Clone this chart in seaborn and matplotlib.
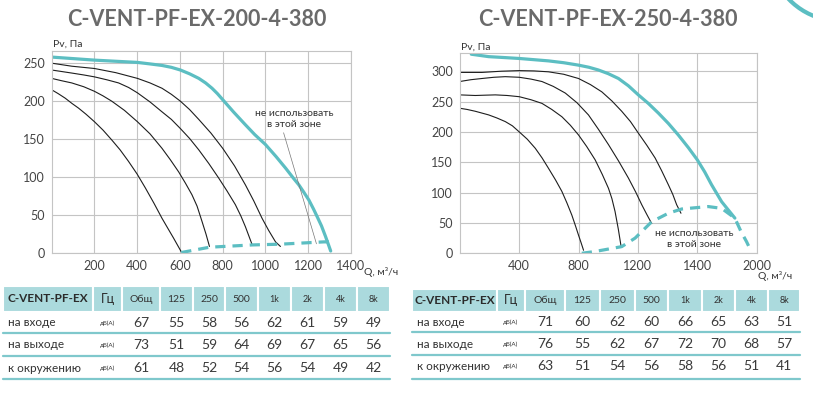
#!/usr/bin/env python3
"""
Fan curves for C-VENT-PF-EX 200 / 250 with noise tables.
"""
import matplotlib
matplotlib.use("Agg")
import matplotlib.pyplot as plt
from matplotlib.patches import Rectangle, Arc
import seaborn as sns

# ---- chart data ----
# left chart: C-VENT-PF-EX-200-4-380
l_max_q = [0, 100, 200, 300, 401, 460, 516, 560, 602, 645, 688, 720, 750, 775, 800, 850,
           906, 950, 1000, 1050, 1094, 1130, 1156, 1180, 1203, 1225, 1242, 1262, 1281, 1295, 1305]
l_max_p = [258, 256, 254, 252.5, 251, 249, 247, 244.5, 241, 236, 230, 224, 217, 210, 202, 186,
           169, 156, 143, 127, 112, 99, 90, 80, 70, 58, 48, 36, 22, 11, 3]
l_c1_q = [0, 30, 63, 95, 125, 160, 200, 240, 281, 320, 359, 400, 438, 478, 516, 545, 570, 590, 606]
l_c1_p = [215, 210, 204, 197, 191, 183, 173, 162, 149, 136, 121, 104, 86, 66, 46, 32, 20, 10, 2]
l_c2_q = [0, 45, 94, 150, 200, 240, 281, 340, 401, 460, 516, 555, 594, 626, 656, 680, 703, 722, 738]
l_c2_p = [230, 227, 224, 219, 213, 207, 200, 188, 173, 157, 138, 123, 107, 92, 77, 62, 42, 25, 9]
l_c3_q = [0, 94, 150, 200, 260, 313, 360, 401, 460, 516, 560, 602, 645, 688, 735, 781, 820,
          859, 885, 906, 922, 938]
l_c3_p = [241, 237, 234.5, 232, 228, 224, 218, 211, 199, 186, 176, 164, 151, 136, 118, 99, 82,
          64, 49, 35, 23, 11]
l_c4_q = [0, 94, 200, 300, 401, 460, 516, 560, 602, 645, 688, 745, 800, 855, 906, 945, 984,
          1015, 1047, 1070]
l_c4_p = [250, 246, 243, 237.5, 230, 224, 217, 209, 200, 189, 176, 158, 138, 115, 90, 69, 46,
          30, 15, 9]
l_limit_q = [606, 738, 938, 1070, 1273, 1300]
l_limit_p = [1, 8, 11, 12, 15, 15]

# right chart: C-VENT-PF-EX-250-4-380
r_max_q = [78, 195, 300, 401, 500, 598, 700, 800, 870, 934, 1000, 1069, 1136, 1203, 1270, 1338,
           1405, 1472, 1540, 1600, 1650, 1696, 1730, 1764, 1810, 1853]
r_max_p = [328, 324, 322.5, 321, 319, 317, 314, 310, 306.5, 302, 296, 288, 276, 261, 247, 231,
           214, 195, 174, 154, 134, 113, 99, 85, 71, 58]
r_c1_q = [0, 50, 105, 150, 195, 250, 307, 355, 401, 455, 509, 555, 598, 645, 688, 722, 755,
          780, 800, 818, 834]
r_c1_p = [239, 237, 234, 231, 228, 223, 217, 210, 200, 188, 173, 157, 140, 121, 102, 83, 63,
          45, 30, 17, 5]
r_c2_q = [0, 105, 170, 240, 320, 401, 480, 554, 620, 688, 745, 800, 855, 912, 960, 1002, 1025,
          1046, 1068, 1087]
r_c2_p = [261, 260, 260.5, 261, 260, 258, 253, 247, 237, 225, 211, 195, 176, 154, 130, 107, 90,
          69, 40, 11]
r_c3_q = [0, 75, 150, 230, 307, 401, 480, 554, 630, 711, 790, 867, 935, 1002, 1070, 1136, 1185,
          1226, 1260, 1293]
r_c3_p = [283, 286, 288, 290, 291, 290, 287, 283, 275, 264, 248, 228, 204, 179, 152, 124, 101,
          80, 64, 49]
r_c4_q = [0, 150, 280, 401, 500, 598, 700, 800, 880, 957, 1025, 1091, 1150, 1203, 1260, 1316,
          1360, 1405, 1435, 1461, 1490]
r_c4_p = [298, 298, 300, 301, 300.5, 299, 295, 288, 278, 266, 251, 234, 217, 198, 178, 157,
          136, 113, 97, 80, 66]
r_limit_q = [822, 912, 1091, 1181, 1293, 1405, 1495, 1674, 1764, 1853, 1894, 1932, 1965]
r_limit_p = [0, 3, 11, 25, 52, 66, 73, 77, 74, 58, 36, 19, 2]

l_xticks = [200, 400, 600, 800, 1000, 1200, 1400]
l_yticks = [0, 50, 100, 150, 200, 250]
r_xticks = [400, 800, 1200, 1600, 2000]
r_xlabels = ["400", "800", "1200", "1400", "2000"]
r_yticks = [0, 50, 100, 150, 200, 250, 300]

# ---- noise tables ----
tbl_cols = ["Общ", "125", "250", "500", "1k", "2k", "4k", "8k"]
tbl_rows = ["на входе", "на выходе", "к окружению"]
l_noise = [[67, 55, 58, 56, 62, 61, 59, 49],
           [73, 51, 59, 64, 69, 67, 65, 56],
           [61, 48, 52, 54, 56, 54, 49, 42]]
r_noise = [[71, 60, 62, 60, 66, 65, 63, 51],
           [76, 55, 62, 67, 72, 70, 68, 57],
           [63, 51, 54, 56, 58, 56, 51, 41]]

TEAL = "#5cbec2"
HEAD_BG = "#abdadd"
SEP = "#7fc8cc"
GRID = "#c4c4c4"

sns.set_style("white")
plt.rcParams["font.family"] = ["Lato", "DejaVu Sans"]

fig = plt.figure(figsize=(8.13, 3.97), dpi=100)

# overlay in pixel coords for titles, tables, decorations
ov = fig.add_axes([0, 0, 1, 1])
ov.set_xlim(0, 813)
ov.set_ylim(397, 0)
ov.axis("off")


def fan_chart(ax, max_q, max_p, curves, lim_q, lim_p, xlim, ylim, xticks, yticks, xlabels=None):
    for q, p in curves:
        sns.lineplot(x=q, y=p, ax=ax, color="#1e1e1e", linewidth=0.8, sort=False)
    sns.lineplot(x=max_q, y=max_p, ax=ax, color=TEAL, linewidth=2.3, sort=False)
    sns.lineplot(x=lim_q, y=lim_p, ax=ax, color=TEAL, linewidth=2.3, sort=False,
                 linestyle=(0, (3.2, 2.2)))
    ax.set_xlim(*xlim)
    ax.set_ylim(*ylim)
    ax.set_xticks(xticks)
    ax.set_xticklabels(xlabels if xlabels else [str(t) for t in xticks])
    ax.set_yticks(yticks)
    ax.grid(True, which="major", axis="both", color=GRID, linewidth=0.8)
    ax.set_axisbelow(True)
    ax.tick_params(length=0, labelsize=9, labelcolor="#444444", pad=5)
    for s in ax.spines.values():
        s.set_color(GRID)
        s.set_linewidth(0.8)
    ax.set_xlabel("")
    ax.set_ylabel("")


ax1 = fig.add_axes([51.7 / 813, 1 - 253.3 / 397, 299.3 / 813, 202.3 / 397])
fan_chart(ax1, l_max_q, l_max_p,
          [(l_c1_q, l_c1_p), (l_c2_q, l_c2_p), (l_c3_q, l_c3_p), (l_c4_q, l_c4_p)],
          l_limit_q, l_limit_p, (0, 1400), (0, 266), l_xticks, l_yticks)
ax1.text(1133, 184, "не использовать", ha="center", va="center", fontsize=7.5, color="#333333")
ax1.text(1133, 169, "в этой зоне", ha="center", va="center", fontsize=7.5, color="#333333")
ax1.annotate("", xy=(1242, 9), xytext=(1081, 162),
             arrowprops=dict(arrowstyle="-", color="#777777", lw=0.5))

ax2 = fig.add_axes([459.7 / 813, 1 - 253.3 / 397, 297 / 813, 200.3 / 397])
fan_chart(ax2, r_max_q, r_max_p,
          [(r_c1_q, r_c1_p), (r_c2_q, r_c2_p), (r_c3_q, r_c3_p), (r_c4_q, r_c4_p)],
          r_limit_q, r_limit_p, (0, 2000), (0, 330), r_xticks, r_yticks, r_xlabels)
ax2.text(1580, 33, "не использовать", ha="center", va="center", fontsize=7.5, color="#333333")
ax2.text(1580, 14, "в этой зоне", ha="center", va="center", fontsize=7.5, color="#333333")

# titles and axis captions
ov.text(197, 19, "C-VENT-PF-EX-200-4-380", ha="center", va="center",
        fontsize=15.5, fontweight="bold", color="#6a6a6a")
ov.text(608, 20, "C-VENT-PF-EX-250-4-380", ha="center", va="center",
        fontsize=15.5, fontweight="bold", color="#6a6a6a")
ov.text(53, 44, "Pv, Па", ha="left", va="center", fontsize=7.5, color="#333333")
ov.text(461, 47, "Pv, Па", ha="left", va="center", fontsize=7.5, color="#333333")
ov.text(364, 272, "Q, м³/ч", ha="left", va="center", fontsize=7.5, color="#333333")
ov.text(758, 276, "Q, м³/ч", ha="left", va="center", fontsize=7.5, color="#333333")

# decorative arc top-right
ov.add_patch(Arc((840, -50), 142, 142, theta1=110, theta2=250, color=TEAL, lw=3))


def noise_table(edges, top, head_bottom, row_y, sep_y, values):
    # header
    for i in range(len(edges) - 1):
        ov.add_patch(Rectangle((edges[i], top), edges[i + 1] - edges[i], head_bottom - top,
                               facecolor=HEAD_BG, edgecolor="white", lw=1.5))
    hy = (top + head_bottom) / 2
    ov.text((edges[0] + edges[1]) / 2, hy, "C-VENT-PF-EX", ha="center", va="center",
            fontsize=8.5, fontweight="bold", color="#2b2b2b")
    ov.text((edges[1] + edges[2]) / 2, hy, "Гц", ha="center", va="center",
            fontsize=9, color="#2b2b2b")
    for j, c in enumerate(tbl_cols):
        fs = 7.5 if j < 4 else 6.5
        ov.text((edges[j + 2] + edges[j + 3]) / 2, hy, c, ha="center", va="center",
                fontsize=fs, color="#333333")
    # rows
    for r, name in enumerate(tbl_rows):
        ov.text(edges[0] + 5, row_y[r], name, ha="left", va="center", fontsize=8.5, color="#333333")
        ov.text((edges[1] + edges[2]) / 2, row_y[r], "дБ(А)", ha="center", va="center",
                fontsize=4.5, color="#333333")
        for j, v in enumerate(values[r]):
            ov.text((edges[j + 2] + edges[j + 3]) / 2, row_y[r], str(v), ha="center",
                    va="center", fontsize=10, color="#3a3a3a")
        ov.plot([edges[0], edges[-1]], [sep_y[r], sep_y[r]], color=SEP, lw=1.6)


noise_table([3, 93, 122, 160, 193, 225, 258, 291, 324, 357, 390], 286, 312,
            [323, 345, 368], [333, 356, 379], l_noise)
noise_table([412, 497, 525, 565, 600, 635, 668, 702, 735, 768, 800], 289, 312,
            [322, 344, 366], [332, 355, 379], r_noise)

plt.savefig("out.png", dpi=100)
plt.close()
